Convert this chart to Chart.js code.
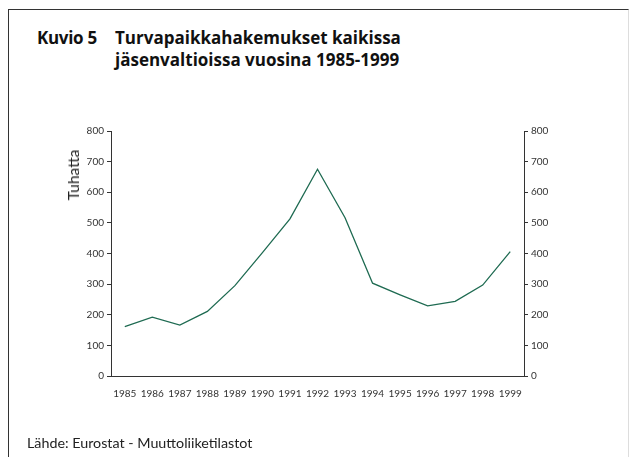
<!DOCTYPE html>
<html>
<head>
<meta charset="utf-8">
<script src="https://cdn.jsdelivr.net/npm/chart.js@4"></script>
<style>
  html, body { margin: 0; padding: 0; background: #fff; }
  #wrap { position: relative; width: 629px; height: 457px; overflow: hidden; font-family: Lato, "Open Sans", sans-serif; color: #111; }
  #frame { position: absolute; left: 8px; top: 9px; width: 619px; height: 460px; border-left: 1px solid #333; border-top: 1px solid #333; border-right: 1px solid #ddd; }
  .title { position: absolute; top: 27px; font-family: "Open Sans", sans-serif; font-size: 17px; font-weight: bold; line-height: 22px; }
  #num { left: 37px; letter-spacing: -0.3px; }
  #txt { left: 115px; }
  #ytitle { position: absolute; left: 73px; top: 175px; font-size: 15.5px; font-weight: 400; color: #222; transform: translate(-50%, -50%) rotate(-90deg); white-space: nowrap; }
  #src { position: absolute; left: 27px; top: 434px; font-size: 14.3px; color: #222; }
  #chartBox { position: absolute; left: 0; top: 0; width: 629px; height: 457px; }
</style>
</head>
<body>
<div id="wrap">
  <div id="frame"></div>
  <div class="title" id="num">Kuvio 5</div>
  <div class="title" id="txt">Turvapaikkahakemukset kaikissa<br>jäsenvaltioissa vuosina 1985-1999</div>
  <div id="chartBox"><canvas id="chart"></canvas></div>
  <div id="ytitle">Tuhatta</div>
  <div id="src">Lähde: Eurostat - Muuttoliiketilastot</div>
</div>
<script>
// --- DATA ---
const years = ["1985", "1986", "1987", "1988", "1989", "1990", "1991", "1992",
               "1993", "1994", "1995", "1996", "1997", "1998", "1999"];
const applications = [161, 192, 166, 211, 295, 403, 513, 675, 517, 303, 265, 229, 244, 297, 406];
const yTicks = [0, 100, 200, 300, 400, 500, 600, 700, 800];

const tickFont = { family: "Lato, 'Open Sans', sans-serif", size: 10 };
const axisColor = "#333";

// common settings for both value axes
function valueAxis(position, width) {
  return {
    position: position,
    min: 0,
    max: 800,
    afterBuildTicks: axis => { axis.ticks = yTicks.map(v => ({ value: v })); },
    afterFit: axis => { axis.width = width; },
    grid: { drawOnChartArea: false, tickLength: 4, color: axisColor },
    border: { color: axisColor, width: 1 },
    ticks: { font: tickFont, color: "#333", padding: 3 }
  };
}

new Chart(document.getElementById("chart"), {
  type: "line",
  data: {
    labels: years,
    datasets: [{
      data: applications,
      borderColor: "#1f6b52",
      borderWidth: 1.3,
      pointRadius: 0,
      tension: 0,
      fill: false
    }]
  },
  options: {
    responsive: true,
    maintainAspectRatio: false,
    animation: false,
    layout: { padding: { left: 60, right: 55, top: 131, bottom: 53 } },
    plugins: { legend: { display: false }, tooltip: { enabled: false } },
    scales: {
      x: {
        offset: true,
        grid: { display: false },
        border: { color: axisColor, width: 1 },
        ticks: { font: tickFont, color: "#333", padding: 4, maxRotation: 0, autoSkip: false }
      },
      y: valueAxis("left", 51),
      y2: valueAxis("right", 50)
    }
  }
});
</script>
</body>
</html>
